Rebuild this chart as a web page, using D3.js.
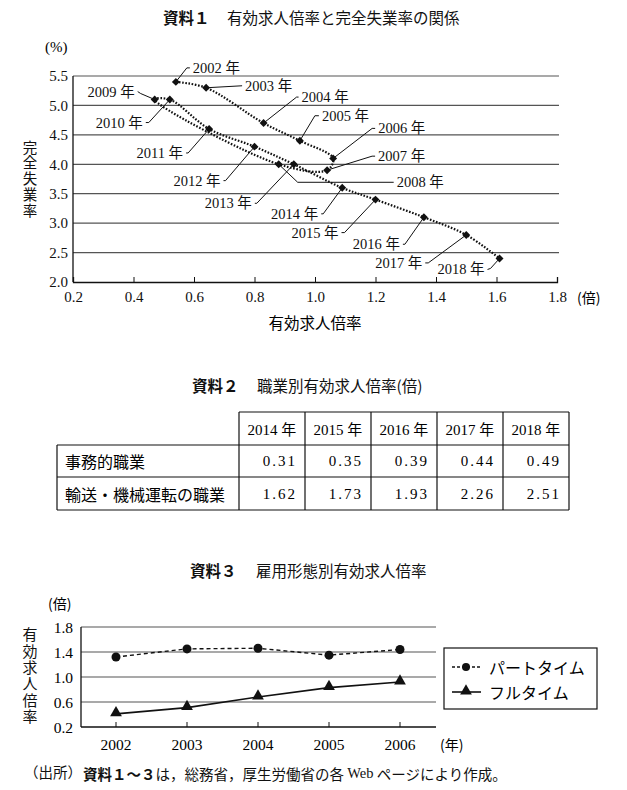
<!DOCTYPE html>
<html><head><meta charset="utf-8">
<script src="https://cdn.jsdelivr.net/npm/d3@7"></script>
<style>
html,body{margin:0;padding:0;background:#fff;}
svg{display:block;}
</style></head>
<body>
<script>
// ---------- DATA ----------
// 資料1
const years1 = [2002,2003,2004,2005,2006,2007,2008,2009,2010,2011,2012,2013,2014,2015,2016,2017,2018];
const jobRatio = [0.54,0.64,0.83,0.95,1.06,1.04,0.88,0.47,0.52,0.65,0.80,0.93,1.09,1.20,1.36,1.50,1.61];
const unemployment = [5.4,5.3,4.7,4.4,4.1,3.9,4.0,5.1,5.1,4.6,4.3,4.0,3.6,3.4,3.1,2.8,2.4];
const xTicks1 = [0.2,0.4,0.6,0.8,1.0,1.2,1.4,1.6,1.8];
const yTicks1 = [2.0,2.5,3.0,3.5,4.0,4.5,5.0,5.5];
// 資料2
const tableYears = ["2014 年","2015 年","2016 年","2017 年","2018 年"];
const rowLabels = ["事務的職業","輸送・機械運転の職業"];
const officeValues = ["0.31","0.35","0.39","0.44","0.49"];
const transportValues = ["1.62","1.73","1.93","2.26","2.51"];
// 資料3
const years3 = ["2002","2003","2004","2005","2006"];
const partTime = [1.32,1.45,1.46,1.35,1.44];
const fullTime = [0.41,0.51,0.68,0.83,0.92];
const yTicks3 = [0.2,0.6,1.0,1.4,1.8];

// ---------- LAYOUT (label offsets in px relative to point) ----------
const labelLayout = {
 2002:{dx:17,dy:-14,ex:11,ey:-14,a:"start"},
 2003:{dx:39,dy:-2,ex:36,ey:-2,a:"start"},
 2004:{dx:38,dy:-26,ex:33,ey:-26,a:"start"},
 2005:{dx:22,dy:-25,ex:15,ey:-25,a:"start"},
 2006:{dx:45,dy:-30,ex:39,ey:-30,a:"start"},
 2007:{dx:51,dy:-14,ex:45,ey:-14,a:"start"},
 2008:{dx:118,dy:18,ex:19,ey:18,a:"start"},
 2009:{dx:-20,dy:-8,ex:-14,ey:-6,a:"end"},
 2010:{dx:-27,dy:23,ex:-21,ey:23,a:"end"},
 2011:{dx:-26,dy:24,ex:-21,ey:24,a:"end"},
 2012:{dx:-34,dy:34,ex:-29,ey:34,a:"end"},
 2013:{dx:-42,dy:39,ex:-37,ey:39,a:"end"},
 2014:{dx:-24,dy:26,ex:-19,ey:26,a:"end"},
 2015:{dx:-37,dy:33,ex:-31,ey:33,a:"end"},
 2016:{dx:-24,dy:27,ex:-19,ey:27,a:"end"},
 2017:{dx:-44,dy:28,ex:-38,ey:28,a:"end"},
 2018:{dx:-15,dy:11,ex:-9,ey:10,a:"end"}
};

const W=627,H=790;
const MIX="'Liberation Serif','Noto Sans CJK JP',serif";
const JP="'Noto Sans CJK JP',sans-serif";
const svg=d3.select("body").append("svg").attr("width",W).attr("height",H);
const gridC="#555";

function title(y, bold, rest, xBold, xRest){
  const t=svg.append("text").attr("y",y).attr("dominant-baseline","central")
    .attr("font-family",JP).attr("font-size",15.5).attr("fill","#111");
  t.append("tspan").attr("x",xBold).attr("font-weight","bold").text(bold);
  t.append("tspan").attr("x",xRest).text(rest);
}
function vtext(str,x,y0,size,ls){
  svg.append("text").attr("x",x).attr("y",y0)
    .style("writing-mode","vertical-rl").style("text-orientation","upright")
    .attr("letter-spacing",ls)
    .attr("font-family",JP).attr("font-size",size).attr("fill","#111").text(str);
}

// ================= 資料1 =================
title(17,"資料１","有効求人倍率と完全失業率の関係",163,227);
const x1=d3.scaleLinear().domain([0.2,1.8]).range([73,557]);
const y1=d3.scaleLinear().domain([2.0,5.5]).range([282,76]);
const g1=svg.append("g");
g1.selectAll("line.grid").data(yTicks1.filter(d=>d>2)).join("line")
 .attr("x1",x1(0.2)).attr("x2",x1(1.8)+2).attr("y1",d=>y1(d)).attr("y2",d=>y1(d))
 .attr("stroke",gridC).attr("stroke-width",1.2);
// axes
g1.append("line").attr("x1",x1(0.2)).attr("x2",x1(0.2)).attr("y1",y1(5.5)).attr("y2",y1(2)).attr("stroke","#111").attr("stroke-width",1.3);
const xAx1=d3.axisBottom(x1).tickValues(xTicks1).tickSize(-5).tickFormat(d3.format(".1f"));
const ga=g1.append("g").attr("transform",`translate(0,${y1(2)})`).call(xAx1);
ga.select(".domain").attr("stroke","#111").attr("stroke-width",1.3);
ga.selectAll(".tick line").attr("stroke","#111");
ga.selectAll(".tick text").attr("font-family",MIX).attr("font-size",15).attr("fill","#111").attr("y",9).attr("dy","0.71em");
const yAx1=d3.axisLeft(y1).tickValues(yTicks1).tickSize(0).tickPadding(5).tickFormat(d3.format(".1f"));
const gy=g1.append("g").attr("transform",`translate(${x1(0.2)},0)`).call(yAx1);
gy.select(".domain").remove();
gy.selectAll(".tick text").attr("font-family",MIX).attr("font-size",15).attr("fill","#111");
svg.append("text").attr("x",45).attr("y",47).attr("dominant-baseline","central").attr("font-family",MIX).attr("font-size",15).text("(%)");
svg.append("text").attr("x",577).attr("y",297).attr("dominant-baseline","central").attr("font-family",JP).attr("font-size",14).text("(倍)");
svg.append("text").attr("x",315).attr("y",322).attr("text-anchor","middle").attr("dominant-baseline","central").attr("font-family",JP).attr("font-size",15.5).text("有効求人倍率");
vtext("完全失業率",30,140,14.5,1.2);

const pts1=years1.map((yr,i)=>({yr,x:x1(jobRatio[i]),y:y1(unemployment[i])}));
g1.append("path").datum(pts1)
 .attr("d",d3.line().x(d=>d.x).y(d=>d.y).curve(d3.curveCatmullRom.alpha(0.5)))
 .attr("fill","none").attr("stroke","#111").attr("stroke-width",2.2).attr("stroke-dasharray","1.6,1.6");
// leaders + labels
pts1.forEach(p=>{
  const L=labelLayout[p.yr];
  const tipX=p.x+L.dx+(L.a==="start"?-3:3);
  g1.append("polyline").attr("points",[[p.x,p.y],[p.x+L.ex,p.y+L.ey],[tipX,p.y+L.dy]].map(d=>d.join(",")).join(" "))
   .attr("fill","none").attr("stroke","#111").attr("stroke-width",1);
  g1.append("text").attr("x",p.x+L.dx).attr("y",p.y+L.dy).attr("text-anchor",L.a).attr("dominant-baseline","central")
   .attr("font-family",MIX).attr("font-size",14.5).attr("fill","#111").text(p.yr+" 年");
});
g1.selectAll("path.dia").data(pts1).join("path")
 .attr("d",d3.symbol().type(d3.symbolDiamond2).size(40)).attr("transform",d=>`translate(${d.x},${d.y})`).attr("fill","#111");

// ================= 資料2 =================
title(385,"資料２","職業別有効求人倍率(倍)",192,257);
const cx=d3.scaleBand().domain(tableYears).range([239,569]);
const rowY=[412,445,477,510];
const gt=svg.append("g").attr("stroke","#111").attr("stroke-width",1.2);
gt.append("line").attr("x1",239).attr("x2",569).attr("y1",rowY[0]).attr("y2",rowY[0]);
gt.append("line").attr("x1",57).attr("x2",569).attr("y1",rowY[1]).attr("y2",rowY[1]);
gt.append("line").attr("x1",57).attr("x2",569).attr("y1",rowY[2]).attr("y2",rowY[2]);
gt.append("line").attr("x1",57).attr("x2",569).attr("y1",rowY[3]).attr("y2",rowY[3]);
gt.append("line").attr("x1",57).attr("x2",57).attr("y1",rowY[1]).attr("y2",rowY[3]);
tableYears.concat([null]).forEach((c,i)=>{
  const xx=c?cx(c):569;
  gt.append("line").attr("x1",xx).attr("x2",xx).attr("y1",rowY[0]).attr("y2",rowY[3]);
});
tableYears.forEach(c=>svg.append("text").attr("x",cx(c)+cx.bandwidth()/2).attr("y",430).attr("text-anchor","middle")
 .attr("dominant-baseline","central").attr("font-family",MIX).attr("font-size",15).text(c));
rowLabels.forEach((r,i)=>svg.append("text").attr("x",65).attr("y",(rowY[i+1]+rowY[i+2])/2).attr("dominant-baseline","central")
 .attr("font-family",JP).attr("font-size",16).text(r));
[officeValues,transportValues].forEach((vals,ri)=>vals.forEach((v,ci)=>{
  svg.append("text").attr("x",cx(tableYears[ci])+cx.bandwidth()-8).attr("y",(rowY[ri+1]+rowY[ri+2])/2)
   .attr("text-anchor","end").attr("dominant-baseline","central").attr("font-family",MIX).attr("font-size",15)
   .attr("letter-spacing",2).text(v);
}));

// ================= 資料3 =================
title(570,"資料３","雇用形態別有効求人倍率",190,256);
const x3=d3.scalePoint().domain(years3).range([116,400]);
const y3=d3.scaleLinear().domain([0.2,1.8]).range([727,627]);
const g3=svg.append("g");
g3.selectAll("line.grid").data(yTicks3.filter(d=>d>0.2)).join("line")
 .attr("x1",81).attr("x2",436).attr("y1",d=>y3(d)).attr("y2",d=>y3(d)).attr("stroke",gridC).attr("stroke-width",1.2);
g3.append("line").attr("x1",81).attr("x2",81).attr("y1",y3(1.8)).attr("y2",y3(0.2)).attr("stroke","#111").attr("stroke-width",1.3);
g3.append("line").attr("x1",81).attr("x2",436).attr("y1",y3(0.2)).attr("y2",y3(0.2)).attr("stroke","#111").attr("stroke-width",1.3);
g3.selectAll("line.tk").data(years3).join("line").attr("x1",d=>x3(d)).attr("x2",d=>x3(d)).attr("y1",y3(0.2)).attr("y2",y3(0.2)-5).attr("stroke","#111");
g3.selectAll("text.xl").data(years3).join("text").attr("x",d=>x3(d)).attr("y",744).attr("text-anchor","middle").attr("dominant-baseline","central")
 .attr("font-family",MIX).attr("font-size",15.5).text(d=>d);
g3.selectAll("text.yl").data(yTicks3).join("text").attr("x",73).attr("y",d=>y3(d)).attr("text-anchor","end").attr("dominant-baseline","central")
 .attr("font-family",MIX).attr("font-size",15.5).text(d=>d.toFixed(1));
svg.append("text").attr("x",440).attr("y",744).attr("dominant-baseline","central").attr("font-family",JP).attr("font-size",14).text("(年)");
svg.append("text").attr("x",48).attr("y",603).attr("dominant-baseline","central").attr("font-family",JP).attr("font-size",14).text("(倍)");
vtext("有効求人倍率",30,627,15,1.4);
const ln3=d3.line().x((d,i)=>x3(years3[i])).y(d=>y3(d));
g3.append("path").attr("d",ln3(partTime)).attr("fill","none").attr("stroke","#111").attr("stroke-width",1.4).attr("stroke-dasharray","4,3");
g3.append("path").attr("d",ln3(fullTime)).attr("fill","none").attr("stroke","#111").attr("stroke-width",1.6);
g3.selectAll("circle.pt").data(partTime).join("circle").attr("cx",(d,i)=>x3(years3[i])).attr("cy",d=>y3(d)).attr("r",4.5).attr("fill","#111");
const tri=d3.symbol().type(d3.symbolTriangle).size(60);
g3.selectAll("path.ft").data(fullTime).join("path").attr("d",tri).attr("transform",(d,i)=>`translate(${x3(years3[i])},${y3(d)-1})`).attr("fill","#111");
// legend
const lg=svg.append("g");
lg.append("rect").attr("x",444).attr("y",648).attr("width",153).attr("height",61).attr("fill","none").attr("stroke","#111").attr("stroke-width",1.2);
lg.append("line").attr("x1",452).attr("x2",481).attr("y1",667).attr("y2",667).attr("stroke","#111").attr("stroke-width",1.4).attr("stroke-dasharray","3,2");
lg.append("circle").attr("cx",466).attr("cy",667).attr("r",4).attr("fill","#111");
lg.append("line").attr("x1",452).attr("x2",481).attr("y1",692).attr("y2",692).attr("stroke","#111").attr("stroke-width",1.6);
lg.append("path").attr("d",tri).attr("transform","translate(466,691)").attr("fill","#111");
lg.append("text").attr("x",489).attr("y",667).attr("dominant-baseline","central").attr("font-family",JP).attr("font-size",16).text("パートタイム");
lg.append("text").attr("x",489).attr("y",692).attr("dominant-baseline","central").attr("font-family",JP).attr("font-size",16).text("フルタイム");

// footer
const ft=svg.append("text").attr("y",773).attr("dominant-baseline","central").attr("font-family",MIX).attr("font-size",14.5).attr("fill","#111");
ft.append("tspan").attr("x",24).text("（出所）");
ft.append("tspan").attr("x",83).attr("font-weight","bold").attr("font-family",JP).text("資料１～３");
ft.append("tspan").attr("font-family",JP).text("は，総務省，厚生労働省の各 ");
ft.append("tspan").text("Web");
ft.append("tspan").attr("font-family",JP).text(" ページにより作成。");
</script>
</body></html>
